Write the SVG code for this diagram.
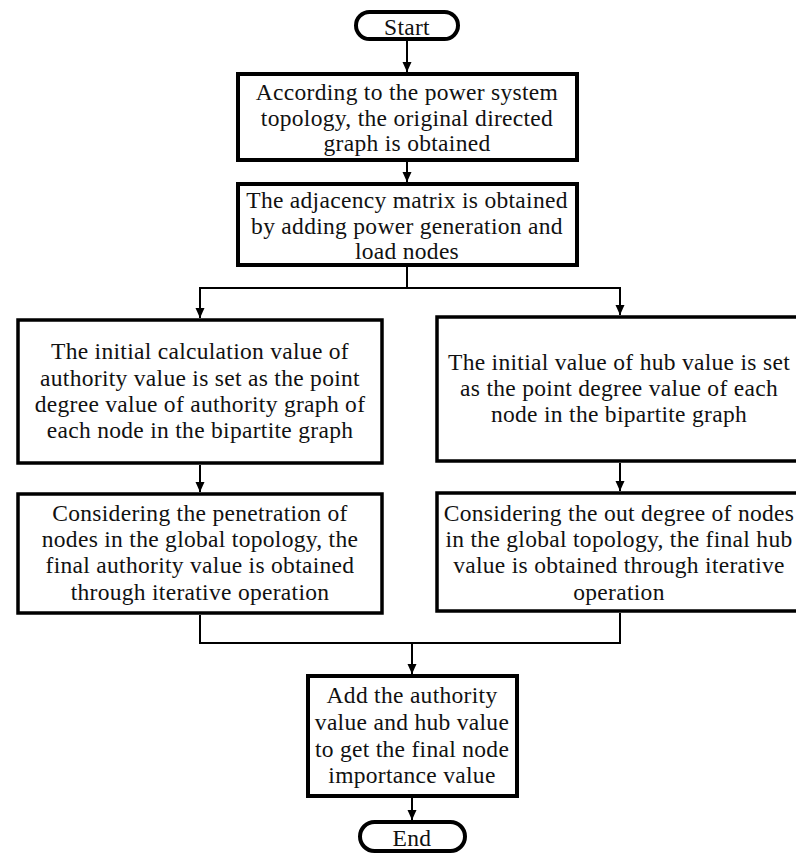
<svg xmlns="http://www.w3.org/2000/svg" width="796" height="856" viewBox="0 0 796 856">
  <defs>
    <marker id="arrow" markerUnits="userSpaceOnUse" markerWidth="10" markerHeight="10" refX="10" refY="5" orient="auto">
      <path d="M0,0.5 L10,5 L0,9.5 Z" fill="#000"/>
    </marker>
    <style>
      .box { fill: #fff; stroke: #000; stroke-width: 4; }
      .box-mid { fill: #fff; stroke: #000; stroke-width: 3.5; }
      .term { fill: #fff; stroke: #000; stroke-width: 4; }
      .label { font-family: "Liberation Serif", "Times New Roman", serif; font-size: 23.5px; letter-spacing: 0.3px; fill: #111; text-anchor: middle; }
      .wire { fill: none; stroke: #000; stroke-width: 2; }
      .wire-arrow { fill: none; stroke: #000; stroke-width: 2; marker-end: url(#arrow); }
    </style>
  </defs>
  <rect width="796" height="856" fill="#fff"/>

  <!-- connectors -->
  <g id="connectors">
    <line class="wire-arrow" x1="407" y1="40" x2="407" y2="72"/>
    <line class="wire-arrow" x1="407" y1="162" x2="407" y2="182"/>
    <line class="wire" x1="407" y1="267" x2="407" y2="288"/>
    <line class="wire" x1="199" y1="288" x2="621" y2="288"/>
    <line class="wire-arrow" x1="200" y1="288" x2="200" y2="318"/>
    <line class="wire-arrow" x1="620" y1="288" x2="620" y2="315"/>
    <line class="wire-arrow" x1="200" y1="465" x2="200" y2="492"/>
    <line class="wire-arrow" x1="620" y1="463" x2="620" y2="491"/>
    <polyline class="wire" points="200,615 200,643 620,643 620,613"/>
    <line class="wire-arrow" x1="412" y1="643" x2="412" y2="674"/>
    <line class="wire-arrow" x1="412" y1="798" x2="412" y2="820"/>
  </g>

  <!-- start terminal -->
  <g id="start">
    <rect class="term" x="356" y="12" width="102" height="27" rx="13.5" ry="13.5"/>
    <text class="label" x="407" y="35">Start</text>
  </g>

  <g id="topology">
    <rect class="box" x="238" y="74" width="339" height="86"/>
    <text class="label" x="407" y="100">According to the power system</text>
    <text class="label" x="407" y="126">topology, the original directed</text>
    <text class="label" x="407" y="151">graph is obtained</text>
  </g>

  <g id="adjacency">
    <rect class="box" x="238" y="184" width="339" height="81"/>
    <text class="label" x="407" y="208">The adjacency matrix is obtained</text>
    <text class="label" x="407" y="234">by adding power generation and</text>
    <text class="label" x="407" y="259">load nodes</text>
  </g>

  <g id="authority-init">
    <rect class="box-mid" x="18" y="320" width="364" height="143"/>
    <text class="label" x="200" y="359">The initial calculation value of</text>
    <text class="label" x="200" y="386">authority value is set as the point</text>
    <text class="label" x="200" y="412">degree value of authority graph of</text>
    <text class="label" x="200" y="438">each node in the bipartite graph</text>
  </g>

  <g id="authority-final">
    <rect class="box-mid" x="18" y="494" width="364" height="119"/>
    <text class="label" x="200" y="521">Considering the penetration of</text>
    <text class="label" x="200" y="547">nodes in the global topology, the</text>
    <text class="label" x="200" y="573">final authority value is obtained</text>
    <text class="label" x="200" y="600">through iterative operation</text>
  </g>

  <g id="hub-init">
    <rect class="box-mid" x="437" y="317" width="364" height="144"/>
    <text class="label" x="619" y="370">The initial value of hub value is set</text>
    <text class="label" x="619" y="396">as the point degree value of each</text>
    <text class="label" x="619" y="422">node in the bipartite graph</text>
  </g>

  <g id="hub-final">
    <rect class="box-mid" x="437" y="493" width="364" height="118"/>
    <text class="label" x="619" y="521">Considering the out degree of nodes</text>
    <text class="label" x="619" y="547">in the global topology, the final hub</text>
    <text class="label" x="619" y="573">value is obtained through iterative</text>
    <text class="label" x="619" y="600">operation</text>
  </g>

  <g id="importance">
    <rect class="box" x="308" y="676" width="209" height="120"/>
    <text class="label" x="412" y="703">Add the authority</text>
    <text class="label" x="412" y="730">value and hub value</text>
    <text class="label" x="412" y="757">to get the final node</text>
    <text class="label" x="412" y="783">importance value</text>
  </g>

  <!-- end terminal -->
  <g id="end">
    <rect class="term" x="360" y="822" width="105" height="29" rx="14.5" ry="14.5"/>
    <text class="label" x="412" y="846">End</text>
  </g>
</svg>
